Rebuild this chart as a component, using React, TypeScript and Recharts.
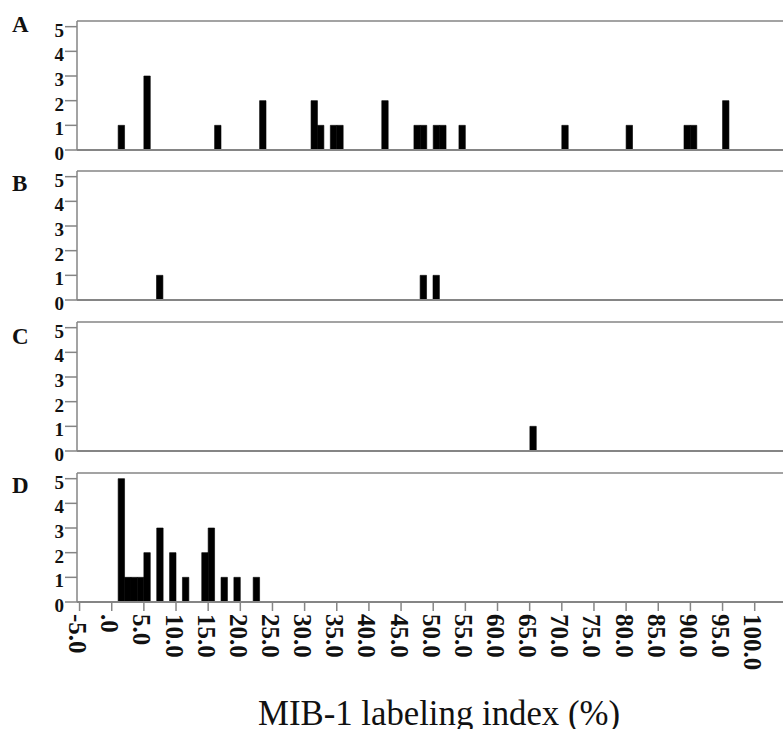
import React from 'react';
import { BarChart, Bar, XAxis, YAxis, ReferenceLine } from 'recharts';

// histogram bins (lower edge, %) and patient counts per panel
const binsA = [1, 5, 16, 23, 31, 32, 34, 35, 42, 47, 48, 50, 51, 54, 70, 80, 89, 90, 95];
const countsA = [1, 3, 1, 2, 2, 1, 1, 1, 2, 1, 1, 1, 1, 1, 1, 1, 1, 1, 2];
const binsB = [7, 48, 50];
const countsB = [1, 1, 1];
const binsC = [65];
const countsC = [1];
const binsD = [1, 2, 3, 4, 5, 7, 9, 11, 14, 15, 17, 19, 22];
const countsD = [5, 1, 1, 1, 2, 3, 2, 1, 2, 3, 1, 1, 1];

const panelLetters = ['A', 'B', 'C', 'D'];
const yTicks = [0, 1, 2, 3, 4, 5];
const xTicks = [-5, 0, 5, 10, 15, 20, 25, 30, 35, 40, 45, 50, 55, 60, 65, 70, 75, 80, 85, 90, 95, 100];
const xTitle = 'MIB-1 labeling index (%)';

const X_DOMAIN: [number, number] = [-5.4, 104.4];
const Y_MAX = 5.23;
const AXIS = '#858585';
const SERIF = '"Liberation Serif", "Times New Roman", serif';

const toRows = (bins: number[], counts: number[]) =>
    bins.map((b, i) => ({ mid: b + 0.5, n: counts[i] }));

const YTick = (props: any) => {
    const { x, y, payload } = props;
    return (
        <text x={x} y={y + 10} textAnchor="end" fontFamily={SERIF} fontWeight="bold" fontSize={19} fill="#111">
            {payload.value}
        </text>
    );
};

const XTick = (props: any) => {
    const { x, y, payload } = props;
    const v = payload.value as number;
    const label = v === 0 ? '.0' : v.toFixed(1);
    const ax = x - 10.5;
    return (
        <text
            x={ax}
            y={y}
            transform={`rotate(90, ${ax}, ${y})`}
            textAnchor="start"
            fontFamily={SERIF}
            fontWeight="bold"
            fontSize={25}
            fill="#111"
        >
            {label}
        </text>
    );
};

const panels = [
    { rows: toRows(binsA, countsA), top: 11 },
    { rows: toRows(binsB, countsB), top: 161 },
    { rows: toRows(binsC, countsC), top: 312 },
    { rows: toRows(binsD, countsD), top: 463 },
];

const letterBaselines = [32, 191, 344, 493];

const Panel: React.FC<{ rows: { mid: number; n: number }[]; top: number; last: boolean }> = ({ rows, top, last }) => {
    const xh = last ? 90 : 16;
    return (
        <div style={{ position: 'absolute', left: 0, top }}>
            <BarChart width={783} height={10 + 129 + xh} data={rows} margin={{ top: 10, right: 0, bottom: 0, left: 0 }}>
                <XAxis
                    dataKey="mid"
                    type="number"
                    domain={X_DOMAIN}
                    allowDataOverflow
                    ticks={xTicks}
                    height={xh}
                    axisLine={{ stroke: AXIS, strokeWidth: 2 }}
                    tickLine={last ? { stroke: AXIS, strokeWidth: 1.5 } : false}
                    tickSize={9}
                    tickMargin={3}
                    tick={last ? <XTick /> : false}
                    interval={0}
                />
                <YAxis
                    type="number"
                    domain={[0, Y_MAX]}
                    ticks={yTicks}
                    width={77}
                    allowDataOverflow
                    axisLine={{ stroke: AXIS, strokeWidth: 1.5 }}
                    tickLine={{ stroke: AXIS, strokeWidth: 1.5 }}
                    tickSize={12}
                    tickMargin={1}
                    tick={<YTick />}
                    interval={0}
                />
                <ReferenceLine y={Y_MAX} stroke={AXIS} strokeWidth={1.5} />
                <Bar dataKey="n" fill="#000" stroke="#000" strokeWidth={0.6} barSize={6.4} isAnimationActive={false} />
            </BarChart>
        </div>
    );
};

export default function App() {
    return (
        <div style={{ position: 'absolute', left: 0, top: 0, width: 783, height: 729, overflow: 'hidden', background: '#fff' }}>
            {panels.map((p, i) => (
                <Panel key={panelLetters[i]} rows={p.rows} top={p.top} last={i === panels.length - 1} />
            ))}
            <svg width={783} height={729} style={{ position: 'absolute', left: 0, top: 0, pointerEvents: 'none' }}>
                {panelLetters.map((l, i) => (
                    <text key={l} x={12} y={letterBaselines[i]} fontFamily={SERIF} fontWeight="bold" fontSize={23} fill="#111">
                        {l}
                    </text>
                ))}
                <text
                    x={258}
                    y={725}
                    fontFamily={SERIF}
                    fontSize={36}
                    fill="#111"
                    textLength={362}
                    lengthAdjust="spacingAndGlyphs"
                >
                    {xTitle}
                </text>
            </svg>
        </div>
    );
}
